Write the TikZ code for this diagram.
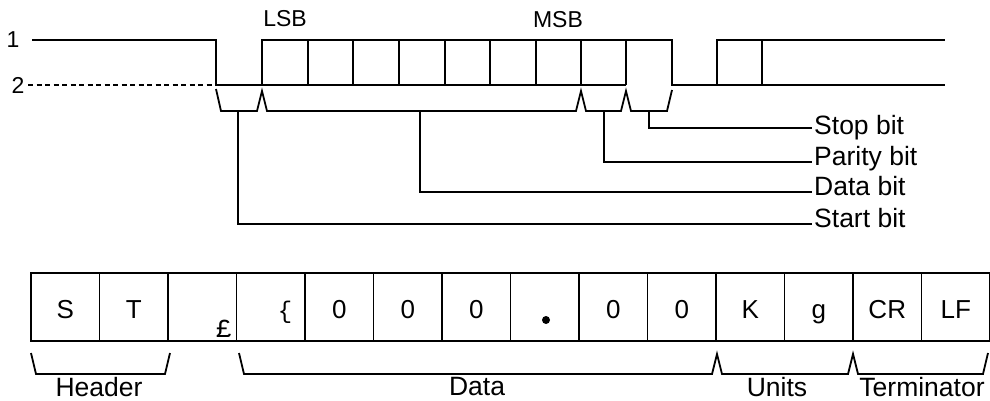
\documentclass[tikz,border=0pt]{standalone}
\usepackage{fontspec}
\setmainfont{Liberation Sans}
\newfontfamily\monofont{Liberation Mono}
\begin{document}
\begin{tikzpicture}[x=1pt,y=-1pt,
  wave/.style={line width=1.8pt},
  brk/.style={line width=1.8pt, line join=miter},
  lead/.style={line width=1.4pt},
  lbl/.style={font=\fontsize{26.5}{28}\selectfont, inner sep=0pt},
  small/.style={font=\fontsize{23}{25}\selectfont, inner sep=0pt},
  cell/.style={draw, line width=1.8pt, minimum width=68.5pt, minimum height=68pt, inner sep=0pt, text height=22pt, text depth=0pt, font=\fontsize{26}{28}\selectfont}]
\useasboundingbox (0,0) rectangle (990,401);
% level labels
\node[small] (one) at (13,40) {1};
\node[small] (two) at (18,85) {2};
\node[small] (lsb) at (285,19) {LSB};
\node[small] (msb) at (558,20) {MSB};
% waveform
\draw[wave] (32,40) -- (216,40) -- (216,85) -- (262,85) -- (262,40) -- (672,40) -- (672,85) -- (717,85) -- (717,40) -- (945,40);
\draw[line width=1.5pt, dash pattern=on 5pt off 3.5pt] (28,85) -- (216,85);
\draw[wave] (262,85) -- (626,85);
\foreach \x in {308,353,399,445,490,536,581,626} \draw[wave] (\x,40) -- (\x,85);
\draw[wave] (717,85) -- (945,85);
\draw[wave] (762,40) -- (762,85);
% brackets under waveform
\draw[brk] (216,89) -- (221,111) -- (257,111) -- (262,91) -- (267,111) -- (576,111) -- (581,91) -- (586,111) -- (621,111) -- (626,91) -- (631,111) -- (667,111) -- (672,90);
\coordinate (sstart) at (238,111);
\coordinate (sdata) at (420,111);
\coordinate (spar) at (604,111);
\coordinate (sstop) at (649,111);
% labels
\node[lbl, anchor=base west] (stop) at (814,135) {Stop bit};
\node[lbl, anchor=base west] (parity) at (814,165) {Parity bit};
\node[lbl, anchor=base west] (data) at (814,195) {Data bit};
\node[lbl, anchor=base west] (start) at (814,227) {Start bit};
\draw[lead] (sstop) |- ([yshift=7pt,xshift=-2pt]stop.base west);
\draw[lead] (spar) |- ([yshift=3pt,xshift=-2pt]parity.base west);
\draw[lead] (sdata) |- ([yshift=3pt,xshift=-2pt]data.base west);
\draw[lead] (sstart) |- ([yshift=3pt,xshift=-2pt]start.base west);
% frame cells
\node[cell] (c1) at (65.25,307) {S};
\node[cell] (c2) at (133.75,307) {T};
\node[cell] (c3) at (202.25,307) {};
\node[cell] (c4) at (270.75,307) {};
\node[cell] (c5) at (339.25,307) {0};
\node[cell] (c6) at (407.75,307) {0};
\node[cell] (c7) at (476.25,307) {0};
\node[cell] (c8) at (544.75,307) {};
\node[cell] (c9) at (613.25,307) {0};
\node[cell] (c10) at (681.75,307) {0};
\node[cell] (c11) at (750.25,307) {K};
\node[cell] (c12) at (818.75,307) {g};
\node[cell] (c13) at (887.25,307) {CR};
\node[cell] (c14) at (955.75,307) {LF};
\node[inner sep=0pt, font=\monofont\fontsize{26}{28}\selectfont] (pound) at (224,329) {£};
\node[inner sep=0pt, font=\monofont\fontsize{24}{26}\selectfont] (brace) at (285,312) {\{};
\fill (546,320) circle (4pt);
% brackets under frame
\draw[brk] (31,353) -- (36,374) -- (165,374) -- (170,353);
\draw[brk] (239,353) -- (244,374) -- (712,374) -- (717,354) -- (722,374) -- (848,374) -- (853,354) -- (858,374) -- (983,374) -- (988,353);
\node[lbl] (hdr) at (99,387) {Header};
\node[lbl] (dat) at (477,387) {Data};
\node[lbl] (uni) at (777,387) {Units};
\node[lbl] (ter) at (922,387) {Terminator};
\end{tikzpicture}
\end{document}
